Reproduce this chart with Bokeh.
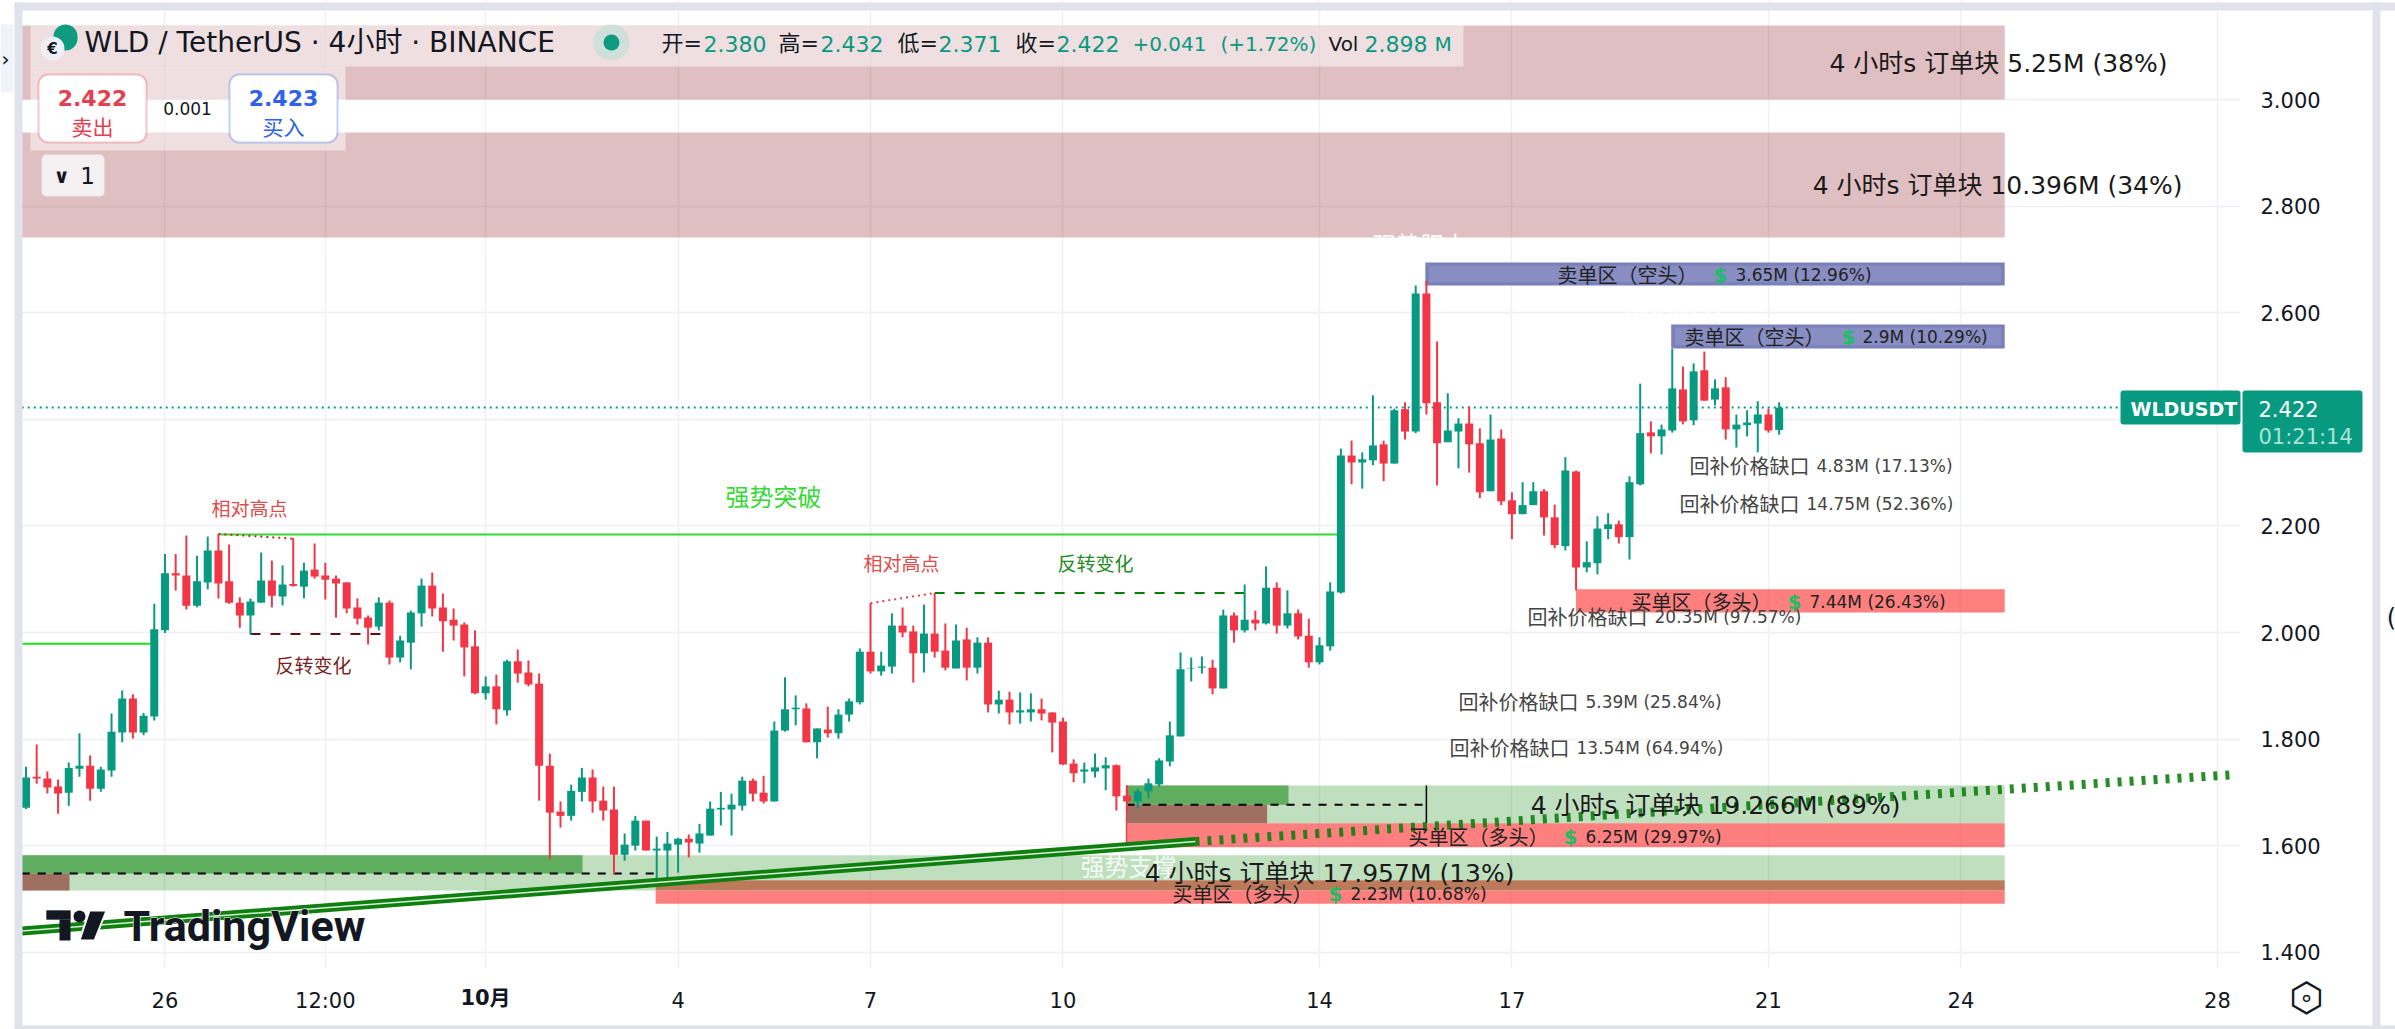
from bokeh.plotting import figure
from bokeh.models import Range1d, FixedTicker, Label, BoxAnnotation, NumeralTickFormatter
from bokeh.embed import file_html
from bokeh.resources import INLINE

opens = [1.671,1.7295,1.726,1.711,1.6995,1.7445,1.750,1.707,1.741,1.8125,
1.876,1.8125,1.8425,2.004,2.111,2.107,2.05,2.094,2.154,2.096,
2.056,2.032,2.056,2.0975,2.0675,2.091,2.086,2.118,2.107,2.101,
2.094,2.047,2.028,2.011,2.056,1.953,1.981,2.036,2.088,2.047,
2.024,2.015,1.974,1.886,1.899,1.854,1.946,1.925,1.904,1.75,
1.664,1.656,1.701,1.728,1.6845,1.668,1.583,1.600,1.647,1.591,
1.591,1.602,1.613,1.604,1.619,1.668,1.668,1.675,1.722,1.6995,
1.683,1.816,1.856,1.8575,1.794,1.818,1.811,1.846,1.869,1.964,
1.927,1.936,2.013,2.002,1.961,1.998,1.966,1.9325,1.987,1.934,
1.981,1.865,1.874,1.85,1.85,1.856,1.85,1.833,1.754,1.739,
1.739,1.745,1.751,1.694,1.683,1.702,1.715,1.758,1.805,1.9325,
1.934,1.934,1.895,2.032,2.004,2.024,2.017,2.084,2.013,2.036,
1.994,1.944,1.974,2.075,2.332,2.319,2.323,2.353,2.317,2.419,
2.377,2.636,2.432,2.357,2.377,2.392,2.355,2.265,2.364,2.248,
2.222,2.239,2.265,2.216,2.162,2.302,2.122,2.13,2.194,2.203,
2.179,2.278,2.3755,2.368,2.379,2.456,2.398,2.492,2.437,2.46,
2.381,2.389,2.392,2.409,2.380]
highs = [1.748,1.790,1.739,1.724,1.756,1.811,1.769,1.748,1.848,1.891,
1.884,1.849,2.054,2.1475,2.1475,2.182,2.144,2.18,2.185,2.165,
2.066,2.064,2.15,2.135,2.126,2.1775,2.131,2.167,2.131,2.107,
2.094,2.064,2.032,2.066,2.06,1.994,2.041,2.101,2.1125,2.073,
2.045,2.019,2.004,1.9175,1.921,1.949,1.968,1.9475,1.923,1.7726,
1.683,1.7145,1.746,1.743,1.711,1.711,1.623,1.656,1.647,1.617,
1.626,1.615,1.621,1.641,1.683,1.701,1.6975,1.7295,1.726,1.731,
1.833,1.916,1.882,1.867,1.82,1.861,1.856,1.876,1.97,2.055,
1.964,2.036,2.047,2.013,2.0525,2.074,2.017,2.015,2.009,1.991,
1.991,1.891,1.889,1.8875,1.886,1.876,1.85,1.84,1.762,1.756,
1.773,1.766,1.7525,1.713,1.7075,1.726,1.764,1.833,1.9625,1.953,
1.955,1.949,2.043,2.0375,2.09,2.041,2.124,2.094,2.079,2.043,
2.026,1.991,2.094,2.345,2.36,2.338,2.445,2.36,2.42,2.432,
2.651,2.66,2.546,2.449,2.402,2.424,2.383,2.409,2.381,2.263,
2.282,2.282,2.269,2.24,2.329,2.304,2.171,2.218,2.224,2.21,
2.293,2.467,2.396,2.39,2.532,2.499,2.505,2.527,2.475,2.479,
2.409,2.417,2.434,2.42,2.432]
lows = [1.669,1.716,1.698,1.660,1.675,1.7295,1.6845,1.701,1.7295,1.794,
1.801,1.807,1.835,1.999,2.079,2.043,2.0475,2.081,2.064,2.054,
2.009,1.996,2.056,2.047,2.051,2.086,2.064,2.101,2.062,2.028,
2.036,2.015,1.9775,2.004,1.94,1.944,1.931,2.011,2.03,1.964,
1.985,1.9175,1.884,1.874,1.8275,1.844,1.906,1.899,1.6845,1.574,
1.634,1.647,1.683,1.662,1.647,1.546,1.572,1.591,1.591,1.5345,
1.538,1.5495,1.578,1.587,1.619,1.638,1.619,1.666,1.683,1.679,
1.683,1.814,1.826,1.794,1.764,1.803,1.801,1.833,1.865,1.923,
1.919,1.923,1.991,1.906,1.925,1.953,1.929,1.9325,1.91,1.923,
1.85,1.848,1.8275,1.829,1.833,1.835,1.775,1.751,1.719,1.717,
1.728,1.704,1.666,1.665,1.67,1.689,1.711,1.749,1.805,1.908,
1.923,1.884,1.895,1.981,2.0,2.004,2.015,1.998,2.0075,1.987,
1.934,1.94,1.966,2.073,2.278,2.27,2.314,2.284,2.317,2.362,
2.374,2.409,2.276,2.357,2.308,2.3,2.252,2.265,2.239,2.175,
2.222,2.239,2.182,2.158,2.154,2.079,2.113,2.109,2.175,2.167,
2.137,2.276,2.336,2.334,2.375,2.3905,2.389,2.435,2.426,2.362,
2.347,2.368,2.338,2.375,2.371]
closes = [1.728,1.726,1.709,1.698,1.746,1.750,1.707,1.743,1.814,1.876,
1.8125,1.844,2.006,2.111,2.107,2.05,2.096,2.154,2.092,2.056,
2.032,2.058,2.0975,2.069,2.09,2.0875,2.116,2.105,2.099,2.092,
2.045,2.026,2.009,2.056,1.953,1.985,2.0375,2.088,2.045,2.021,
2.013,1.972,1.886,1.899,1.856,1.946,1.923,1.9025,1.75,1.662,
1.656,1.703,1.728,1.683,1.666,1.583,1.602,1.647,1.591,1.5945,
1.604,1.613,1.606,1.623,1.6695,1.671,1.677,1.722,1.6975,1.683,
1.816,1.856,1.859,1.794,1.82,1.811,1.846,1.871,1.964,1.927,
1.938,2.013,2.0,1.961,1.998,1.964,1.934,1.985,1.934,1.981,
1.865,1.874,1.85,1.854,1.856,1.848,1.831,1.7525,1.736,1.743,
1.747,1.751,1.6925,1.683,1.702,1.717,1.76,1.807,1.931,1.9335,
1.936,1.895,2.032,2.004,2.024,2.017,2.084,2.013,2.036,1.9925,
1.944,1.976,2.077,2.332,2.319,2.325,2.351,2.317,2.417,2.377,
2.636,2.43,2.355,2.379,2.392,2.353,2.263,2.362,2.246,2.222,
2.239,2.265,2.216,2.164,2.304,2.122,2.132,2.195,2.203,2.179,
2.282,2.374,2.368,2.381,2.458,2.396,2.49,2.435,2.458,2.381,
2.39,2.394,2.409,2.379,2.422]
assert len(opens) == len(highs) == len(lows) == len(closes) == 165

# time axis: candle index of each labelled tick
time_ticks = [13, 28, 43, 61, 79, 97, 121, 139, 163, 181, 205]
time_labels = ["26", "12:00", " ", "4", "7", "10", "14", "17", "21", "24", "28"]
price_ticks = [1.4, 1.6, 1.8, 2.0, 2.2, 2.4, 2.6, 2.8, 3.0]
last_price = 2.422

# order-block / supply / demand zones: (start candle, end candle, top price, bottom price)
pink_zones = [(-0.4, 185.1, 3.139, 3.0), (-0.4, 185.1, 2.938, 2.741)]
blue_zones = [(130.9, 185.1, 2.694, 2.651), (153.9, 185.1, 2.578, 2.533)]
red_zones = [(145, 185.1, 2.081, 2.0375), (102.95, 185.1, 1.642, 1.597), (58.9, 185.1, 1.516, 1.491)]
green_zones = [(-0.4, 185.1, 1.582, 1.535), (-0.4, 58.9, 1.535, 1.516), (102.95, 185.1, 1.713, 1.642)]
dark_green_zones = [(-0.4, 52.06, 1.582, 1.548), (102.95, 118.1, 1.713, 1.677)]
brown_zones = [(-0.4, 4.07, 1.548, 1.516), (102.95, 116.1, 1.677, 1.642)]
overlap_zones = [(58.9, 185.1, 1.535, 1.516)]

FONT = "DejaVu Sans, Noto Sans CJK SC"
CJK = "Noto Sans CJK SC, DejaVu Sans"
UP, DOWN = "#089981", "#f23645"
INK = "#131722"

# the plotting frame fills the page; the scales are pinned to these pixels
W, H = 2395, 1029
PANE_LEFT, PANE_RIGHT, PANE_BOTTOM = 14, 2240, 968
PX_PER_BAR, BAR0_PX = 10.69, 25.5
PX_PER_PRICE, P3_PX = 533.0, 99.0


def bar_at(px):
    return (px - BAR0_PX) / PX_PER_BAR


def price_at(py):
    return 3 - (py - P3_PX) / PX_PER_PRICE


p = figure(frame_width=W, frame_height=H, output_backend="svg", toolbar_location=None,
           x_range=Range1d(bar_at(0), bar_at(W)), y_range=Range1d(price_at(H), price_at(0)),
           min_border=0, outline_line_color=None, background_fill_color="white", border_fill_color="white",
           y_axis_location="right")

p.xaxis.ticker = FixedTicker(ticks=time_ticks)
p.xaxis.major_label_overrides = dict(zip(time_ticks, time_labels))
p.yaxis.ticker = FixedTicker(ticks=price_ticks)
p.yaxis.formatter = NumeralTickFormatter(format="0.000")
p.xaxis.fixed_location = price_at(PANE_BOTTOM)
p.yaxis.fixed_location = bar_at(PANE_RIGHT)
for ax in (p.xaxis[0], p.yaxis[0]):
    ax.axis_line_color = None
    ax.major_tick_line_color = None
    ax.minor_tick_line_color = None
    ax.major_label_text_font = FONT
    ax.major_label_text_font_size = "21px"
    ax.major_label_text_color = INK
p.xaxis.major_label_standoff = 14
p.yaxis.major_label_standoff = 14
p.xgrid.ticker = FixedTicker(ticks=time_ticks)
p.ygrid.ticker = FixedTicker(ticks=price_ticks)
p.grid.grid_line_color = "#eef0f6"
p.grid.grid_line_width = 1.5

# white axis panes over the ends of the grid lines
p.quad(left=[bar_at(PANE_RIGHT), bar_at(0), bar_at(0)], right=[bar_at(W), bar_at(W), bar_at(PANE_LEFT)],
       top=[price_at(0), price_at(PANE_BOTTOM), price_at(0)], bottom=[price_at(H), price_at(H), price_at(H)],
       fill_color="white", line_color=None)


def zones(rows, color, alpha=1.0):
    p.quad(left=[r[0] for r in rows], right=[r[1] for r in rows], top=[r[2] for r in rows],
           bottom=[r[3] for r in rows], fill_color=color, fill_alpha=alpha, line_color=None)


zones(pink_zones, "#8b1a22", 0.28)
zones(blue_zones, "#7a80ba", 1.0)
zones(green_zones, "#008000", 0.25)
zones(red_zones, "#ff0000", 0.5)
zones(overlap_zones, "#bb7a5a", 1.0)
zones(dark_green_zones, "#5fae5f", 1.0)
zones(brown_zones, "#9f7062", 1.0)
# inner, lighter part of the supply zones
p.quad(left=[r[0] + 0.35 for r in blue_zones], right=[r[1] - 0.35 for r in blue_zones],
       top=[r[2] - 0.006 for r in blue_zones], bottom=[r[3] + 0.006 for r in blue_zones],
       fill_color="#888dc2", line_color=None)

# horizontal structure levels
p.line([18, 122.8], [2.184, 2.184], line_color="#35d935", line_width=2)
p.line([-0.4, 11.7], [1.979, 1.979], line_color="#1fe01f", line_width=2)
p.line([18, 25], [2.185, 2.176], line_color="#d02020", line_width=2, line_dash="2 4")
p.line([79, 85], [2.055, 2.074], line_color="#e04040", line_width=2, line_dash="2 4")
p.line([21, 33.8], [1.997, 1.997], line_color="#5c1010", line_width=2, line_dash="10 10")
p.line([85, 114.7], [2.074, 2.074], line_color="#008000", line_width=2, line_dash="10 10")
p.line([-0.4, 58.9], [1.548, 1.548], line_color="black", line_width=2, line_dash="8 8")
p.line([102.95, 131], [1.677, 1.677], line_color="black", line_width=2, line_dash="8 8")
p.line([131, 131], [1.713, 1.642], line_color="black", line_width=1.5)
p.line([102.95, 102.95], [1.713, 1.597], line_color="#e04050", line_width=1.5)

# last price line
p.line([-0.4, 196], [last_price, last_price], line_color=UP, line_width=2, line_dash="2 4")

# candles
xs = list(range(len(opens)))
cols = [UP if c >= o else DOWN for o, c in zip(opens, closes)]
p.segment(xs, highs, xs, lows, line_color=cols, line_width=2)
p.vbar(x=xs, width=0.75, top=[max(o, c) for o, c in zip(opens, closes)],
       bottom=[min(o, c) for o, c in zip(opens, closes)], fill_color=cols, line_color=None)

# rising support line
p.line([-0.4, 109.4], [1.44, 1.608], line_color="#0f7f0f", line_width=9)
p.line([-0.4, 109.4], [1.44, 1.608], line_color="#d8efd8", line_width=1.5)
p.line([109.4, 206.7], [1.608, 1.7336], line_color="#0f7f0f", line_width=9, line_alpha=0.9, line_dash="4 8")


def box(x0, y0, x1, y1, fill, alpha=1.0, line=None, lw=1, radius=0):
    p.add_layout(BoxAnnotation(left=x0, right=x1, top=y0, bottom=y1,
                               left_units="canvas", right_units="canvas", top_units="canvas", bottom_units="canvas",
                               fill_color=fill, fill_alpha=alpha, line_color=line, line_width=lw,
                               border_radius=radius, level="overlay", editable=False))


def label(x, y, text, size=18, color="#2a2e39", align="left", style="normal", font=FONT, **kw):
    p.add_layout(Label(x=x, y=y, x_units="canvas", y_units="canvas", text=text, level="overlay",
                       text_font=font, text_font_size=f"{size}px", text_color=color, text_align=align,
                       text_baseline="middle", text_font_style=style, **kw))


# panel gutters
box(14, 2, 22, 1029, "#e0e3eb")
box(2372, 2, 2380, 1029, "#e0e3eb")
box(14, 2, 2380, 10, "#e0e3eb")
box(2380, 2, 2395, 10, "#e0e3eb")
box(14, 1025, 2395, 1029, "#e0e3eb")
box(0, 24, 13, 92, "#f0f3fa")
label(5, 58, "›", 20, INK, "center")
label(2391, 617, "(", 24, INK, "center")

# annotations on the price area
label(249, 507, "相对高点", 19, "#e04b4b", "center", font=CJK)
label(313, 664, "反转变化", 19, "#7a1f1f", "center", font=CJK)
label(773, 495, "强势突破", 24, "#35d935", "center", font=CJK)
label(901, 562, "相对高点", 19, "#e04b4b", "center", font=CJK)
label(1095, 562, "反转变化", 19, "#228b22", "center", font=CJK)
label(1420, 243, "强势阻力", 24, "white", "center", font=CJK)
label(1673, 310, "强势阻力", 24, "white", "center", font=CJK)
label(1128, 865, "强势支撑", 24, "#f4fbf4", "center", font=CJK)

label(2167, 63, "4 小时s 订单块 5.25M (38%)", 25, "#1a1a1a", "right")
label(2182, 185, "4 小时s 订单块 10.396M (34%)", 25, "#1a1a1a", "right")
label(1900, 805, "4 小时s 订单块 19.266M (89%)", 25, "#1a1a1a", "right")
label(1514, 873, "4 小时s 订单块 17.957M (13%)", 25, "#1a1a1a", "right")

for (xl, xd, xn, y, name, amount) in [
    (1557, 1720, 1735, 274, "卖单区（空头）", "3.65M (12.96%)"),
    (1684, 1848, 1862, 336, "卖单区（空头）", "2.9M (10.29%)"),
    (1631, 1794, 1809, 601, "买单区（多头）", "7.44M (26.43%)"),
    (1408, 1570, 1585, 836, "买单区（多头）", "6.25M (29.97%)"),
    (1172, 1335, 1350, 893, "买单区（多头）", "2.23M (10.68%)"),
]:
    label(xl, y, name, 20, "#222222", font=CJK)
    label(xd, y, "$", 20, "#22bb66", "center", "bold")
    label(xn, y, amount, 17, "#222222")

for (xl, xn, y, amount) in [
    (1689, 1816, 465, "4.83M (17.13%)"),
    (1679, 1806, 503, "14.75M (52.36%)"),
    (1527, 1654, 616, "20.35M (97.57%)"),
    (1458, 1585, 701, "5.39M (25.84%)"),
    (1449, 1576, 747, "13.54M (64.94%)"),
]:
    label(xl, y, "回补价格缺口", 20, "#444444", font=CJK)
    label(xn, y, amount, 17, "#444444")

# TradingView mark
label(123, 925, "TradingView", 43, "white", style="bold", font="Roboto", text_outline_color="white")
label(123, 925, "TradingView", 43, INK, style="bold", font="Roboto")
box(46, 910, 70, 919, INK, 1, "white", 3)
box(59, 919, 70, 940, INK)
box(46, 910, 70, 919, INK)
box(73, 910, 85, 922, INK, radius=6)
p.patch([bar_at(a) for a in (89, 106, 94, 79)], [price_at(b) for b in (910, 910, 940, 940)],
        fill_color=INK, line_color="white", line_width=2)

# legend backing
box(30, 25, 1463, 66, "white", 0.5)
box(30, 66, 345, 150, "white", 0.5)
box(53, 24, 77, 50, "#0e9b7f", radius=12)
box(40, 36, 64, 60, "#eef0f5", radius=12)
label(52, 48, "€", 15, INK, "center", "bold")
label(84, 42, "WLD / TetherUS · 4小时 · BINANCE", 28, INK)
box(593, 24, 629, 60, "#cfdfd9", radius=18)
box(603, 34, 619, 50, "#0e9b7f", radius=8)

hdr = 22
for x, t, c in [(661, "开=", INK), (703, "2.380", UP), (778, "高=", INK), (820, "2.432", UP), (897, "低=", INK),
                (938, "2.371", UP), (1015, "收=", INK), (1056, "2.422", UP)]:
    label(x, 43, t, hdr, c)
label(1132, 43, "+0.041", 20, UP)
label(1220, 43, "(+1.72%)", 20, UP)
label(1328, 43, "Vol", 20, INK)
label(1364, 43, "2.898", 22, UP)
label(1434, 43, "M", 20, UP)

# order buttons
box(38, 74, 146, 142, "white", 1, "#e5404f", 2, 10)
box(229, 74, 337, 142, "white", 1, "#2f62e8", 2, 10)
label(92, 97, "2.422", 22, "#e5404f", "center", "bold")
label(92, 125, "卖出", 21, "#e5404f", "center", font=CJK)
label(187, 108, "0.001", 17, INK, "center")
label(283, 97, "2.423", 22, "#2f62e8", "center", "bold")
label(283, 125, "买入", 21, "#2f62e8", "center", font=CJK)
box(41, 154, 104, 196, "#f5f0f1", 1, "#d5d8e0", 1.5, 5)
label(61, 175, "∨", 20, INK, "center", "bold")
label(87, 175, "1", 23, INK, "center")

# price tags
box(2120, 390, 2240, 424, UP, radius=3)
label(2130, 408, "WLDUSDT", 19, "white", style="bold")
box(2242, 390, 2362, 452, UP, radius=3)
label(2258, 408, "2.422", 21, "white")
label(2258, 436, "01:21:14", 21, "#a8e4d4")

# bold month label and settings mark on the time scale
label(485, 997, "10月", 21, INK, "center", "bold")
label(2306, 996, "⬡", 40, INK, "center")
label(2306, 997, "∘", 24, INK, "center")

open("out.html", "w").write(file_html(p, INLINE))
